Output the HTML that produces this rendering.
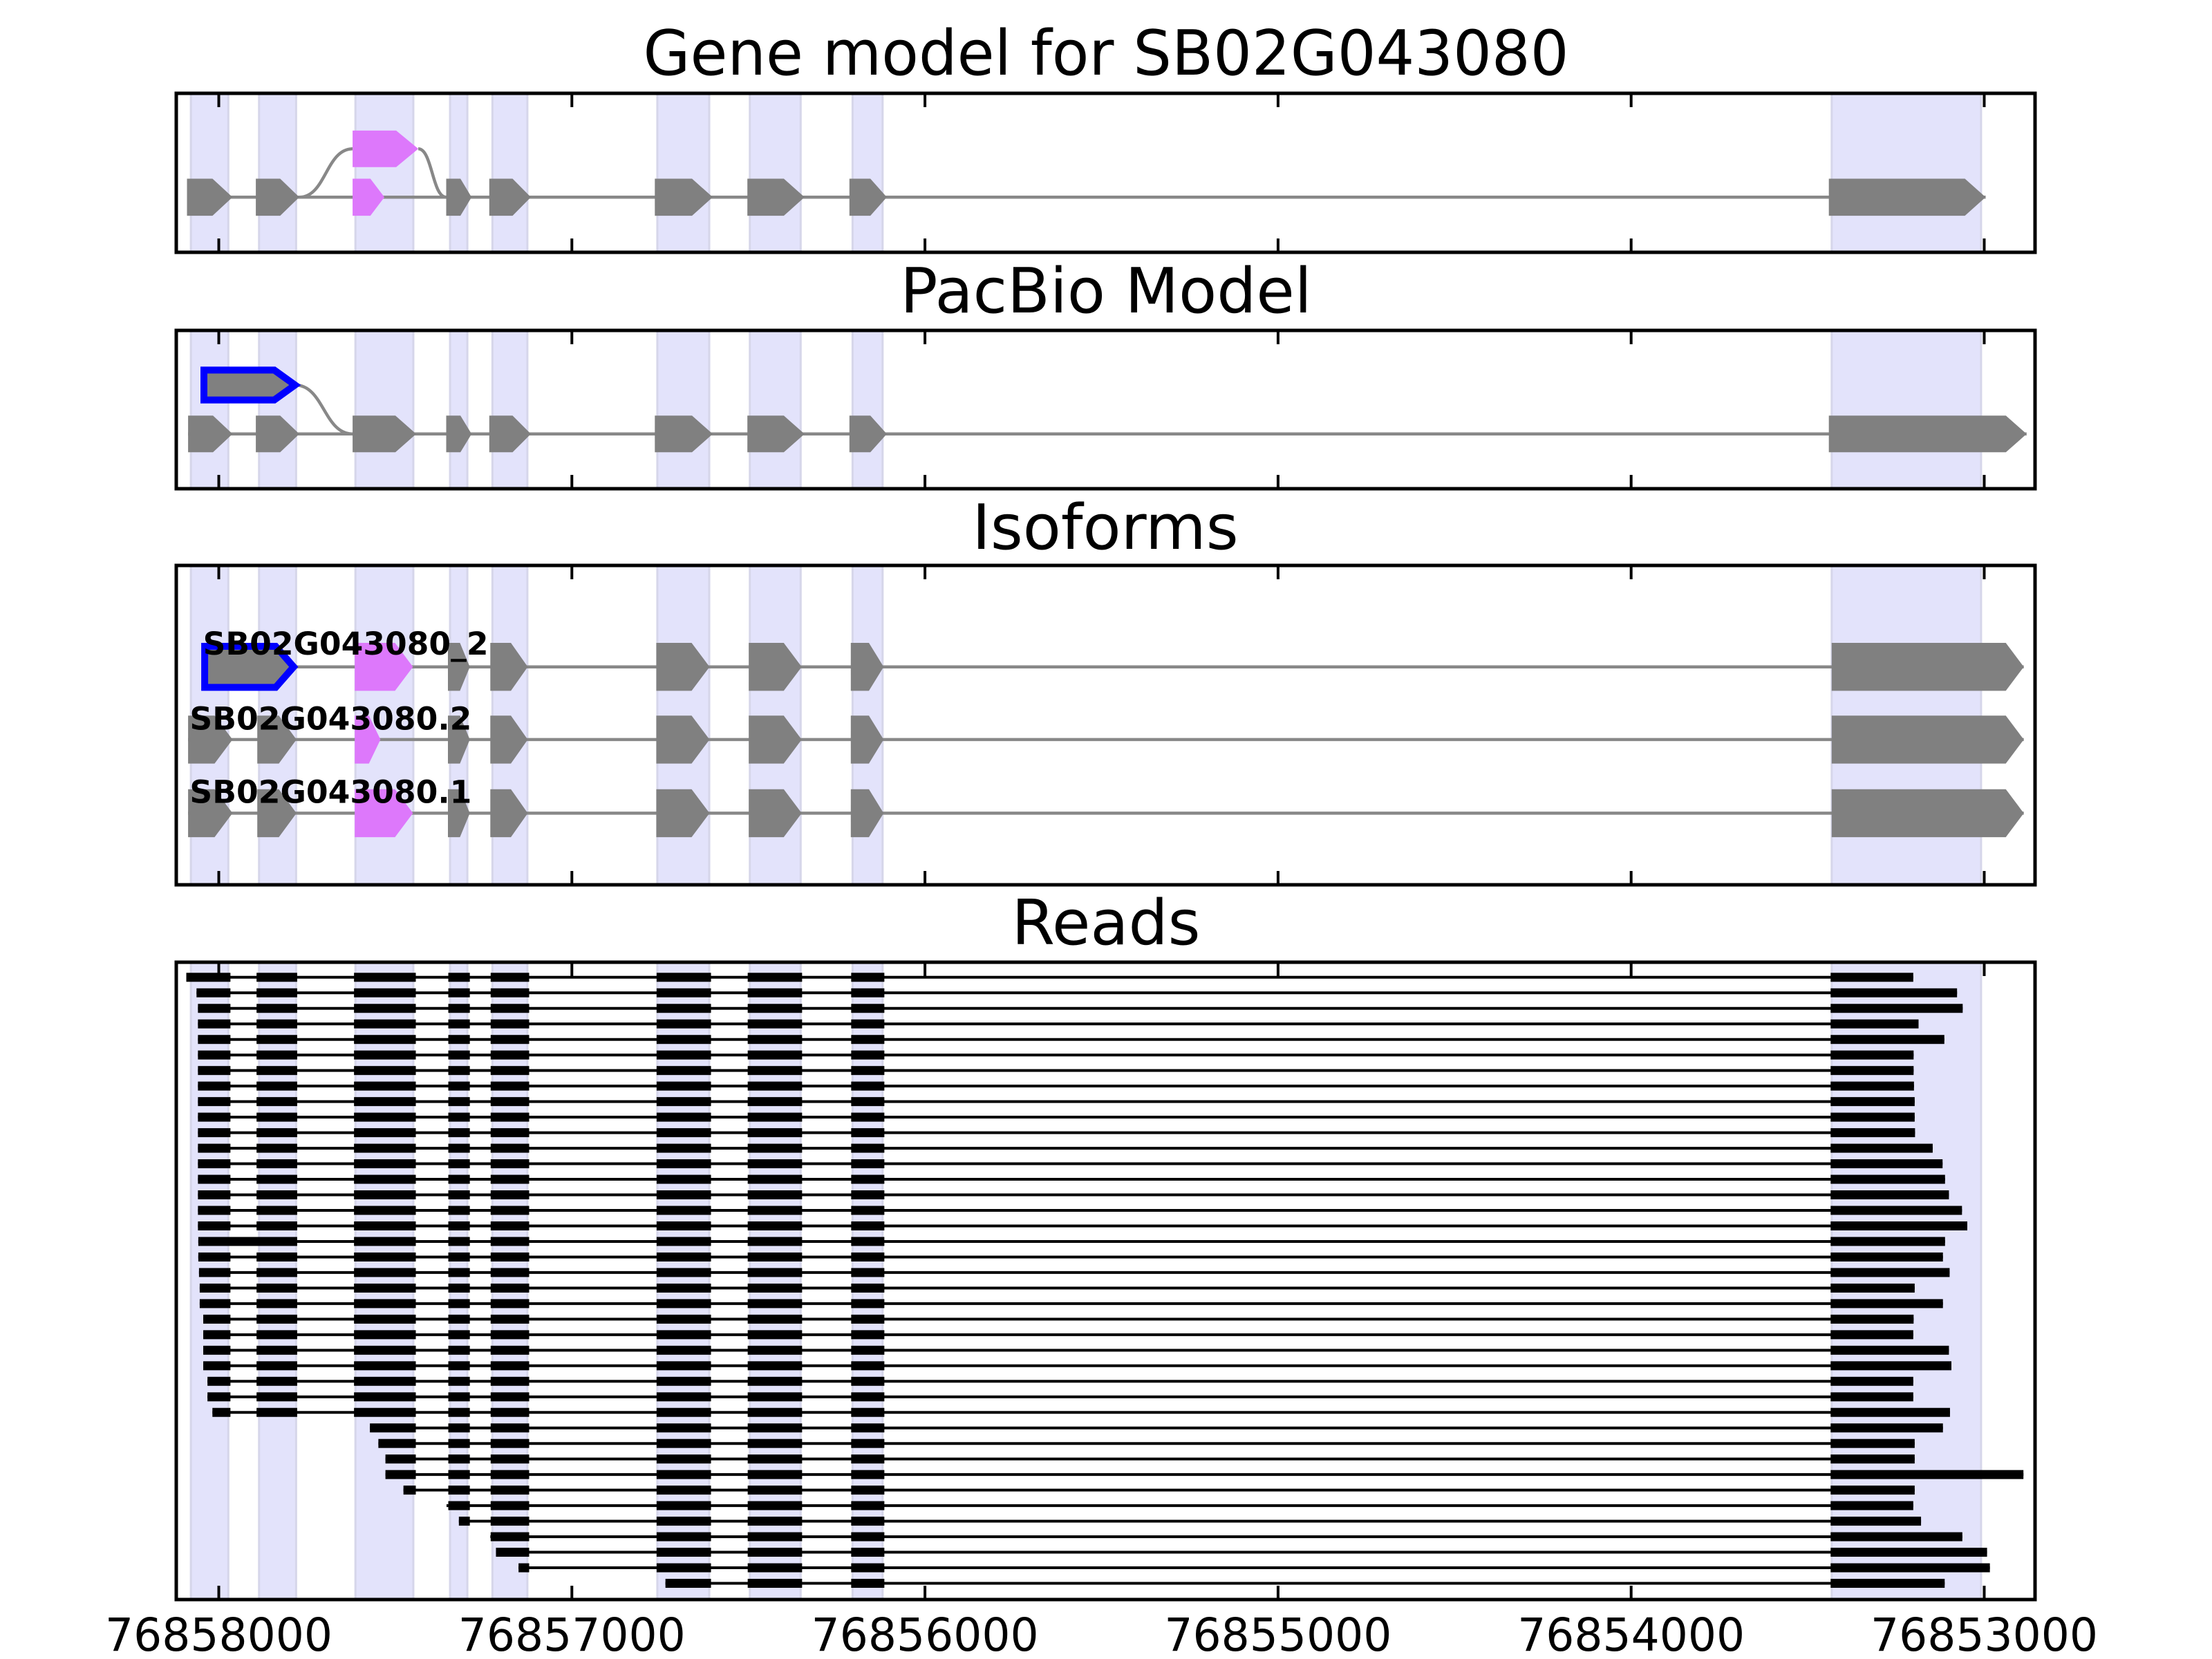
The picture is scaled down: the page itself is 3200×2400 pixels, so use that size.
<!DOCTYPE html>
<html><head><meta charset="utf-8"><style>html,body{margin:0;padding:0;background:#fff}svg{display:block}</style></head>
<body>
<svg id="fig" xmlns="http://www.w3.org/2000/svg" width="3200" height="2400" viewBox="0 0 3200 2400" font-family="'DejaVu Sans','Liberation Sans',sans-serif">
<rect width="3200" height="2400" fill="#fff"/>
<text x="1600" y="108" font-size="90" text-anchor="middle" textLength="1339" lengthAdjust="spacingAndGlyphs">Gene model for SB02G043080</text>
<text x="1600" y="452" font-size="90" text-anchor="middle">PacBio Model</text>
<text x="1599" y="794" font-size="90" text-anchor="middle">Isoforms</text>
<text x="1600" y="1366" font-size="90" text-anchor="middle">Reads</text>
<g id="layer"></g>
</svg>
<script>
// ---- data (genomic coordinates) ----
const tickValues = [76858000, 76857000, 76856000, 76855000, 76854000, 76853000];
const tickLabels = ["76858000", "76857000", "76856000", "76855000", "76854000", "76853000"];
const shadedExonStarts = [76858079, 76857886, 76857613, 76857345, 76857225, 76856758, 76856496, 76856205, 76853432];
const shadedExonEnds   = [76857973, 76857781, 76857449, 76857296, 76857126, 76856611, 76856352, 76856120, 76853009];

// gene model (panel 1)
const geneLowerStarts = [76858090, 76857895, 76857621, 76857356, 76857234, 76856765, 76856503, 76856214, 76853440];
const geneLowerEnds   = [76857961, 76857772, 76857531, 76857284, 76857116, 76856601, 76856341, 76856108, 76852996];
const geneLowerPink   = [0, 0, 1, 0, 0, 0, 0, 0, 0];
const geneUpperExon   = [76857621, 76857435];

// PacBio model (panel 2)
const pacLowerStarts = [76858087, 76857895, 76857621, 76857356, 76857234, 76856765, 76856503, 76856214, 76853440];
const pacLowerEnds   = [76857961, 76857772, 76857441, 76857284, 76857116, 76856601, 76856341, 76856108, 76852880];
const pacUpperExon   = [76858042, 76857784];

// isoforms (panel 3)
const isoNames = ["SB02G043080_2", "SB02G043080.2", "SB02G043080.1"];
const iso1Starts = [76858040, 76857615, 76857351, 76857231, 76856761, 76856499, 76856210, 76853432];
const iso1Ends   = [76857788, 76857450, 76857289, 76857125, 76856610, 76856349, 76856117, 76852888];
const iso1Kind   = ["blue", "pink", "grey", "grey", "grey", "grey", "grey", "grey"];
const iso2Starts = [76858087, 76857891, 76857615, 76857351, 76857231, 76856761, 76856499, 76856210, 76853432];
const iso2Ends   = [76857961, 76857780, 76857542, 76857289, 76857125, 76856610, 76856349, 76856117, 76852888];
const iso2Kind   = ["grey", "grey", "pink", "grey", "grey", "grey", "grey", "grey", "grey"];
const iso3Starts = [76858087, 76857891, 76857615, 76857351, 76857231, 76856761, 76856499, 76856210, 76853432];
const iso3Ends   = [76857961, 76857780, 76857450, 76857289, 76857125, 76856610, 76856349, 76856117, 76852888];
const iso3Kind   = ["grey", "grey", "pink", "grey", "grey", "grey", "grey", "grey", "grey"];

// reads (panel 4)
const readColStarts = [76858200, 76857893, 76857617, 76857350, 76857230, 76856760, 76856502, 76856209, 76853435];
const readColEnds   = [76857967, 76857778, 76857442, 76857289, 76857121, 76856606, 76856348, 76856115, 0];
const readStarts = [76858092, 76858063, 76858059, 76858059, 76858059, 76858059, 76858059, 76858059, 76858059, 76858059,
  76858059, 76858059, 76858059, 76858059, 76858059, 76858059, 76858059, 76858058, 76858058, 76858056,
  76858054, 76858054, 76858044, 76858044, 76858044, 76858044, 76858032, 76858032, 76858018, 76857572,
  76857548, 76857528, 76857528, 76857477, 76857355, 76857320, 76857231, 76857215, 76857151, 76856735];
const readEnds = [76853201, 76853077, 76853061, 76853186, 76853113, 76853200, 76853200, 76853199, 76853197, 76853197,
  76853196, 76853146, 76853118, 76853111, 76853100, 76853063, 76853048, 76853111, 76853117, 76853098,
  76853197, 76853117, 76853200, 76853201, 76853100, 76853093, 76853201, 76853201, 76853097, 76853117,
  76853197, 76853197, 76852889, 76853197, 76853201, 76853179, 76853062, 76852992, 76852984, 76853112];
const retainedIntronReads = [17];

// ---- layout ----
const L = 255, R = 2944;
const domLeft = 76858000 + (316.5 - L) / 0.5108;
const domRight = 76858000 - (R - 316.5) / 0.5108;
function x(pos) { return L + (domLeft - pos) / (domLeft - domRight) * (R - L); }
const panels = [[135, 365], [478, 707], [818, 1280], [1392, 2314]];
const GREY = "#808080", PINK = "#dd78fb", BLUE = "#0000ff", LINE = "#888888";
const NS = "http://www.w3.org/2000/svg";
const layer = document.getElementById("layer");
function mk(tag, attrs, parent) {
  const e = document.createElementNS(NS, tag);
  for (const k in attrs) e.setAttribute(k, attrs[k]);
  (parent || layer).appendChild(e);
  return e;
}
function exonPts(x0, x1, yc, h, maxTip, frac) {
  const tip = Math.min(maxTip, frac * (x1 - x0));
  return [[x0, yc - h], [x1 - tip, yc - h], [x1, yc], [x1 - tip, yc + h], [x0, yc + h]].map(p => p[0].toFixed(1) + "," + p[1].toFixed(1)).join(" ");
}
function curve(xa, ya, xb, yb, name) {
  const mx = (xa + xb) / 2;
  const p = mk("path", {d: `M${xa},${ya} C${mx},${ya} ${mx},${yb} ${xb},${yb}`, fill: "none", stroke: LINE, "stroke-width": 4.5});
  
  
}
function hline(xa, xb, y, name, color, w) {
  const l = mk("line", {x1: xa, x2: xb, y1: y, y2: y, stroke: color || LINE, "stroke-width": w || 4.5});
  
  
}
function exon(s, e, yc, h, kind, name, maxTip, frac) {
  const x0 = x(s), x1 = x(e);
  let poly;
  if (kind === "blue") {
    poly = mk("polygon", {points: exonPts(x0, x1, yc, h - 5, maxTip, frac), fill: GREY, stroke: BLUE, "stroke-width": 10, "stroke-linejoin": "miter"});
  } else {
    poly = mk("polygon", {points: exonPts(x0, x1, yc, h, maxTip, frac), fill: kind === "pink" ? PINK : GREY});
  }
  
  
  return [x0, x1];
}

// shading
panels.forEach((p, pi) => {
  for (let i = 0; i < shadedExonStarts.length; i++) {
    const r = mk("rect", {x: x(shadedExonStarts[i]), y: p[0], width: x(shadedExonEnds[i]) - x(shadedExonStarts[i]), height: p[1] - p[0], fill: "#e3e3fb", stroke: "#d6d6ea", "stroke-width": 3});
    
    
  }
});

// panel 1: gene model
(function () {
  const yl = 285.3, yu = 215.3, h = 26.8;
  hline(x(geneLowerStarts[0]), x(geneLowerEnds[geneLowerEnds.length - 1]), yl, 'gene-model-intron-line');
  curve(x(geneLowerEnds[1]), yl, x(geneUpperExon[0]), yu, 'gene-model-splice-curve');
  curve(x(geneUpperExon[1]), yu, x(geneLowerStarts[3]), yl, 'gene-model-splice-curve');
  for (let i = 0; i < geneLowerStarts.length; i++) exon(geneLowerStarts[i], geneLowerEnds[i], yl, h, geneLowerPink[i] ? "pink" : "grey", 'gene-model-exon', 30, 0.44);
  exon(geneUpperExon[0], geneUpperExon[1], yu, 26.4, "pink", 'gene-model-alt-exon', 32, 0.44);
})();

// panel 2: PacBio
(function () {
  const yl = 627.8, yu = 557, h = 26.5;
  hline(x(pacLowerStarts[0]), x(pacLowerEnds[pacLowerEnds.length - 1]), yl, 'pacbio-intron-line');
  curve(x(pacUpperExon[1]), yu, x(pacLowerStarts[2]), yl, 'pacbio-splice-curve');
  for (let i = 0; i < pacLowerStarts.length; i++) exon(pacLowerStarts[i], pacLowerEnds[i], yl, h, "grey", 'pacbio-exon', 30, 0.44);
  exon(pacUpperExon[0], pacUpperExon[1], yu, 26.6, "blue", 'pacbio-novel-exon', 30, 0.44);
})();

// panel 3: isoforms
(function () {
  const rows = [[iso1Starts, iso1Ends, iso1Kind], [iso2Starts, iso2Ends, iso2Kind], [iso3Starts, iso3Ends, iso3Kind]];
  const ys = [964.7, 1069.9, 1176.4];
  rows.forEach((r, ri) => {
    hline(x(r[0][0]), x(r[1][r[1].length - 1]), ys[ri], 'isoform-intron-line');
    for (let i = 0; i < r[0].length; i++) exon(r[0][i], r[1][i], ys[ri], 34.7, r[2][i], 'isoform-exon', 26, 0.45);
  });
  const lx = [293.6, 274.4, 274.4], ly = [947, 1055.5, 1161.7], lw = [413, 408, 408];
  isoNames.forEach((n, i) => {
    const t = mk("text", {x: lx[i], y: ly[i], "font-size": 45, "font-weight": "bold", textLength: lw[i], lengthAdjust: "spacingAndGlyphs"});
    t.textContent = n;
    
    
  });
})();

// panel 4: reads
(function () {
  const y0 = 1413.8, dy = 22.48, th = 13;
  for (let r = 0; r < readStarts.length; r++) {
    const yc = y0 + r * dy, s = readStarts[r], e = readEnds[r];
    hline(x(s), x(e), yc, 'read-line', "#000", 4);
    const blocks = [];
    for (let c = 0; c < readColStarts.length; c++) {
      const cEnd = c === readColStarts.length - 1 ? e : readColEnds[c];
      if (cEnd >= s) continue;
      blocks.push([Math.min(readColStarts[c], s), cEnd, c]);
    }
    if (retainedIntronReads.indexOf(r) >= 0 && blocks.length > 1 && blocks[0][2] === 0) {
      blocks[0][1] = blocks[1][1];
      blocks.splice(1, 1);
    }
    blocks.forEach(b => {
      const rc = mk("rect", {x: x(b[0]), y: yc - th / 2, width: x(b[1]) - x(b[0]), height: th, fill: "#000"});
      
      
    });
  }
})();

// frames and ticks
panels.forEach((p, pi) => {
  tickValues.forEach(v => {
    const tx = x(v);
    const t1 = mk("line", {x1: tx, x2: tx, y1: p[0], y2: p[0] + 20, stroke: "#000", "stroke-width": 4});
    
    
    const t2 = mk("line", {x1: tx, x2: tx, y1: p[1], y2: p[1] - 20, stroke: "#000", "stroke-width": 4});
    
    
  });
  const f = mk("rect", {x: L, y: p[0], width: R - L, height: p[1] - p[0], fill: "none", stroke: "#000", "stroke-width": 5});
  
  
});
tickValues.forEach((v, i) => {
  const t = mk("text", {x: x(v), y: 2388, "font-size": 66, "text-anchor": "middle", textLength: 329, lengthAdjust: "spacingAndGlyphs"});
  t.textContent = tickLabels[i];
  
  
});
</script>
</body></html>
